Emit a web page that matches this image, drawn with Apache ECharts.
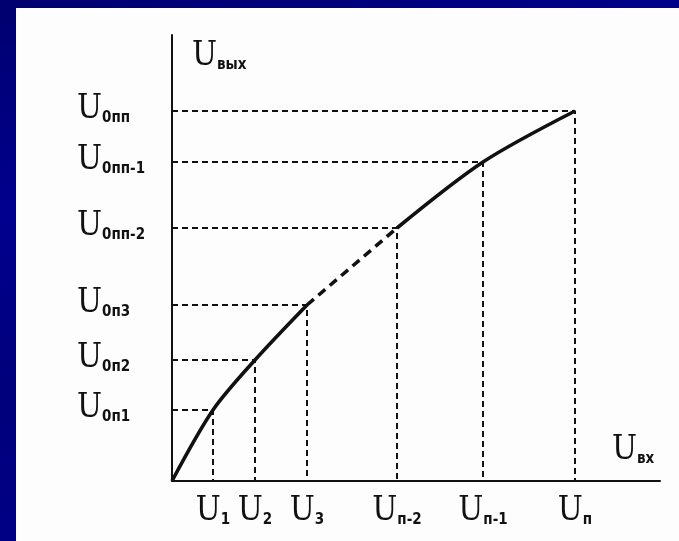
<!DOCTYPE html>
<html><head><meta charset="utf-8">
<script src="https://cdn.jsdelivr.net/npm/echarts@6/dist/echarts.min.js"></script>
<style>
html,body{margin:0;padding:0;}
body{width:679px;height:541px;position:relative;overflow:hidden;
  background:linear-gradient(165deg,#000070 0%,#00008e 30%,#00007c 55%,#000088 80%,#00008a 100%);}
#panel{position:absolute;left:16px;top:8px;right:0;bottom:0;background:#fdfdfd;}
#chart{position:absolute;left:0;top:0;width:679px;height:541px;}
</style></head><body>
<div id="panel"></div><div id="chart"></div>
<script>
// Input voltage levels U1..Un and their subscripts
const inputLevels = [41, 83, 135, 225, 311, 403];
const inputLabels = ['1', '2', '3', 'п-2', 'п-1', 'п'];
// Output voltage levels U0п1..U0пп and their subscripts
const outputLevels = [71, 121, 176, 253, 319, 370];
const outputLabels = ['0п1', '0п2', '0п3', '0пп-2', '0пп-1', '0пп'];
const xMax = 488, yMax = 446;

const pts = inputLevels.map((x, i) => [x, outputLevels[i]]);
const seg1 = [[0, 0]].concat(pts.slice(0, 3));
const seg2 = pts.slice(2, 4);
const seg3 = pts.slice(3);

const serifU = "'DejaVu Serif Condensed', 'Liberation Serif', serif";
const subFont = "'Liberation Sans Narrow', 'DejaVu Sans Condensed', sans-serif";
const rich = {
  u: { fontFamily: serifU, fontSize: 33, color: '#111', lineHeight: 30, verticalAlign: 'bottom' },
  s: { fontFamily: subFont, fontSize: 15, fontWeight: 'bold', color: '#111', lineHeight: 14, verticalAlign: 'bottom' }
};
const ink = '#111';

const guides = pts.map(p => ({
  type: 'line', data: [[0, p[1]], [p[0], p[1]], [p[0], 0]],
  symbol: 'none', silent: true, z: 1,
  lineStyle: { color: ink, width: 2, type: [6, 4] }
}));

const chart = echarts.init(document.getElementById('chart'), null, { renderer: 'canvas' });
chart.setOption({
  animation: false,
  backgroundColor: 'transparent',
  grid: { left: 172, right: 19, top: 35, bottom: 60 },
  xAxis: {
    type: 'value', min: 0, max: xMax,
    splitLine: { show: false }, axisTick: { show: false },
    axisLine: { lineStyle: { color: ink, width: 2 } },
    axisLabel: {
      customValues: inputLevels, margin: 17,
      formatter: v => '{u|U}{s|' + inputLabels[inputLevels.indexOf(v)] + '}',
      rich: rich
    },
    name: '{u|U}{s|вх}', nameLocation: 'end', nameGap: -48,
    nameTextStyle: { align: 'left', verticalAlign: 'bottom', padding: [0, 0, 14, 0], rich: rich }
  },
  yAxis: {
    type: 'value', min: 0, max: yMax,
    splitLine: { show: false }, axisTick: { show: false },
    axisLine: { lineStyle: { color: ink, width: 2 } },
    axisLabel: {
      customValues: outputLevels, margin: 95, align: 'left',
      formatter: v => '{u|U}{s|' + outputLabels[outputLevels.indexOf(v)] + '}',
      rich: rich
    },
    name: '{u|U}{s|вых}', nameLocation: 'end', nameGap: -8,
    nameTextStyle: { align: 'left', verticalAlign: 'top', padding: [0, 0, 0, 20], rich: rich }
  },
  series: guides.concat([
    { type: 'line', data: seg1, smooth: 0.3, symbol: 'none', z: 3,
      lineStyle: { color: ink, width: 3.6 } },
    { type: 'line', data: seg2, symbol: 'none', z: 3,
      lineStyle: { color: ink, width: 3.6, type: [9, 6] } },
    { type: 'line', data: seg3, smooth: 0.3, symbol: 'none', z: 3,
      lineStyle: { color: ink, width: 3.6 } }
  ])
});
</script>
</body></html>
